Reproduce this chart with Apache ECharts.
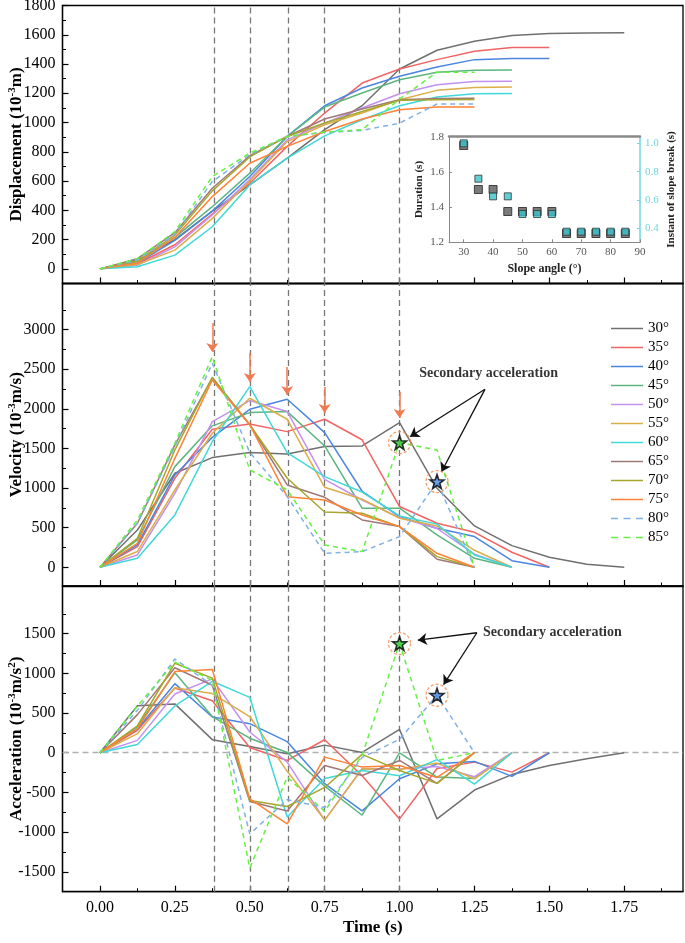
<!DOCTYPE html>
<html><head><meta charset="utf-8">
<script src="https://cdn.jsdelivr.net/npm/echarts@6/dist/echarts.min.js"></script>
<style>html,body{margin:0;padding:0;background:#fff}#c{width:685px;height:943px}</style>
</head><body><div id="c"></div>
<script>
// ---------- data ----------
const times = [0,0.125,0.25,0.375,0.5,0.625,0.75,0.875,1.0,1.125,1.25,1.375,1.5,1.625,1.75];
const angles = ['30°','35°','40°','45°','50°','55°','60°','65°','70°','75°','80°','85°'];

const disp30 = [0,60,200,395,574,757,951,1115,1366,1494,1556,1595,1609,1612,1614];
const disp35 = [0,35,165,375,585,837,1065,1270,1366,1430,1488,1513,1513];
const disp40 = [0,40,195,395,631,905,1115,1236,1316,1380,1430,1437,1438];
const disp45 = [0,50,215,425,654,905,1106,1202,1293,1344,1358,1360];
const disp50 = [0,25,150,368,610,882,996,1099,1197,1259,1280,1282];
const disp55 = [0,30,128,345,600,870,985,1065,1156,1220,1240,1243];
const disp60 = [0,15,94,288,574,757,909,1019,1115,1175,1197,1198];
const disp65 = [0,70,247,551,773,905,1024,1092,1156,1165,1166];
const disp70 = [0,55,231,533,765,905,997,1076,1152,1156,1157];
const disp75 = [0,40,215,494,722,837,939,1024,1088,1106,1106];
const disp80 = [0,60,235,597,780,905,932,946,996,1127,1127];
const disp85 = [0,70,254,631,791,905,935,951,1160,1344,1344];

const vel30 = [0,471,1187,1385,1448,1431,1524,1533,1828,998,522,274,126,38,0];
const vel35 = [0,261,1124,1743,1810,1713,1869,1610,767,556,442,190,0];
const vel40 = [0,282,1166,1640,1995,2121,1700,960,640,493,388,84,0];
const vel45 = [0,345,1271,1786,1953,1966,1532,746,746,409,114,0];
const vel50 = [0,156,934,1839,2105,1966,1111,850,628,490,165,0];
const vel55 = [0,200,976,1692,2134,1869,1010,859,619,522,215,0];
const vel60 = [0,114,661,1588,2281,1448,1145,950,649,545,156,0];
const vel65 = [0,556,1545,2390,1800,1040,884,598,514,101,0];
const vel70 = [0,366,1482,2399,1800,1124,699,682,514,135,0];
const vel75 = [0,303,1376,2365,1800,892,850,661,514,177,0];
const vel80 = [0,556,1524,2576,1449,893,177,198,388,1082,0];
const vel85 = [0,598,1566,2660,1230,977,282,198,1575,1480,0];

const acc30 = [0,593,615,165,78,-13,96,4,293,-833,-470,-275,-160,-76,0];
const acc35 = [0,282,815,655,67,-97,164,-290,-833,-198,-118,-244,0];
const acc40 = [0,300,870,450,366,140,-390,-732,-328,-140,-109,-298,0];
const acc45 = [0,330,1008,456,183,4,-420,-787,-2,-307,-324,0];
const acc50 = [0,156,740,930,261,-118,-848,-202,-206,-172,-302,0];
const acc55 = [0,240,820,745,456,-234,-848,-202,-210,-130,-328,0];
const acc60 = [0,105,589,900,698,-808,-324,-223,-290,-86,-395,0];
const acc65 = [0,480,1070,850,-614,-734,-160,-286,-97,-386,0];
const acc70 = [0,340,1128,940,-602,-677,-437,-21,-223,-386,0];
const acc75 = [0,303,1022,1048,-581,-896,-55,-181,-160,-311,0];
const acc80 = [0,534,1180,850,-1022,-591,-690,-60,170,724,0];
const acc85 = [0,588,1140,912,-1453,-307,-738,-30,1376,-97,0];

const slopeAngles = [30,35,40,45,50,55,60,65,70,75,80,85];
const durations = [1.75,1.5,1.5,1.375,1.375,1.375,1.375,1.25,1.25,1.25,1.25,1.25];
const breakInstants = [1.0,0.75,0.625,0.625,0.5,0.5,0.5,0.375,0.375,0.375,0.375,0.375];

const xMajor = [0,0.25,0.5,0.75,1.0,1.25,1.5,1.75];
const xMinor = [0.125,0.375,0.625,0.875,1.125,1.375,1.625,1.875];
const dispMajor = [0,200,400,600,800,1000,1200,1400,1600,1800];
const dispMinor = [100,300,500,700,900,1100,1300,1500,1700];
const velMajor = [0,500,1000,1500,2000,2500,3000];
const velMinor = [250,750,1250,1750,2250,2750,3250];
const accMajor = [-1500,-1000,-500,0,500,1000,1500];
const accMinor = [-1250,-750,-250,250,750,1250,1750];
const insetXTicks = [30,40,50,60,70,80,90];
const insetRightTicks = [0.4,0.6,0.8,1.0];
const breakLines = [0.375,0.5,0.625,0.75,1.0];
// orange arrows (time, start velocity, end velocity)
const peakArrows = [[0.375,3085,2718],[0.5,2706,2340],[0.625,2530,2176],[0.75,2277,1948],[1.0,2214,1885]];

// ---------- style ----------
const colors = ['#707070','#f26464','#4a86e0','#5cb57f','#c490f0','#dcae48','#40d8d8','#a07878','#a6a62c','#ff8236','#80b0e8','#66f044'];
const FF = "'Liberation Serif','Times New Roman',serif";
const disp = [disp30,disp35,disp40,disp45,disp50,disp55,disp60,disp65,disp70,disp75,disp80,disp85];
const vel = [vel30,vel35,vel40,vel45,vel50,vel55,vel60,vel65,vel70,vel75,vel80,vel85];
const acc = [acc30,acc35,acc40,acc45,acc50,acc55,acc60,acc65,acc70,acc75,acc80,acc85];

const L = 62.5, W = 620.5;
const grids = [
  {left:L, width:W, top:5.5, height:278},
  {left:L, width:W, top:283.5, height:302.5},
  {left:L, width:W, top:586, height:305.7},
  {left:449, width:191, top:136.7, height:105.6}
];
const yr = [[-100,1800],[-236,3583],[-1750,2100]];
const yMaj = [dispMajor, velMajor, accMajor];
const yMin = [dispMinor, velMinor, accMinor];

const nameRich = {rich: {
  a: {fontFamily: FF, fontSize: 17, fontWeight: 'bold', color: '#000', lineHeight: 20},
  s: {fontFamily: FF, fontSize: 11, fontWeight: 'bold', color: '#000', lineHeight: 20, verticalAlign: 'top', padding: [0,0,9,0]}
}};
const yNames = [
  '{a|Displacement (10}{s|-3}{a|m)}',
  '{a|Velocity (10}{s|-3}{a|m/s)}',
  '{a|Acceleration (10}{s|-3}{a|m/s}{s|2}{a|)}'
];

const xAxis = [], yAxis = [], series = [];
for (let p = 0; p < 3; p++) {
  xAxis.push({
    type:'value', gridIndex:p, min:-0.125, max:1.946, position:'bottom',
    axisLine:{show:true, onZero:false, lineStyle:{color:'#000', width:1.3}},
    axisTick:{show:true, inside:true, length:6, customValues:xMajor, lineStyle:{color:'#000', width:1.2}},
    axisLabel:{show:p===2, customValues:xMajor, formatter:v=>v.toFixed(2), fontFamily:FF, fontSize:16, color:'#000', margin:8},
    splitLine:{show:false},
    name: p===2 ? 'Time (s)' : '', nameLocation:'middle', nameGap:27,
    nameTextStyle:{fontFamily:FF, fontSize:17, fontWeight:'bold', color:'#000'}
  });
  xAxis.push({
    type:'value', gridIndex:p, min:-0.125, max:1.946, position:'bottom',
    axisLine:{show:false, onZero:false}, axisLabel:{show:false}, splitLine:{show:false},
    axisTick:{show:true, inside:true, length:3.5, customValues:xMinor, lineStyle:{color:'#000', width:1}}
  });
  yAxis.push({
    type:'value', gridIndex:p, min:yr[p][0], max:yr[p][1], position:'left',
    axisLine:{show:true, onZero:false, lineStyle:{color:'#000', width:1.3}},
    axisTick:{show:true, inside:true, length:6, customValues:yMaj[p], lineStyle:{color:'#000', width:1.2}},
    axisLabel:{customValues:yMaj[p], formatter:v=>String(v), fontFamily:FF, fontSize:16, color:'#000', margin:7},
    splitLine:{show:false},
    name: yNames[p], nameTextStyle: nameRich, nameMoveOverlap:false,
    nameLocation:'middle', nameGap:36, nameRotate:90
  });
  yAxis.push({
    type:'value', gridIndex:p, min:yr[p][0], max:yr[p][1], position:'left', offset:0,
    axisLine:{show:false, onZero:false}, axisLabel:{show:false}, splitLine:{show:false},
    axisTick:{show:true, inside:true, length:3.5, customValues:yMin[p], lineStyle:{color:'#000', width:1}}
  });
}
// inset axes: xAxis 6 (bottom), 7 (top frame); yAxis 6 (left), 7 (right)
xAxis.push({
  type:'value', gridIndex:3, min:25, max:90, position:'bottom',
  axisLine:{show:true, onZero:false, lineStyle:{color:'#888', width:1}},
  axisTick:{show:true, inside:true, length:3, customValues:insetXTicks, lineStyle:{color:'#888'}},
  axisLabel:{customValues:insetXTicks, fontFamily:FF, fontSize:11, color:'#555', margin:4},
  splitLine:{show:false},
  name:'Slope angle (°)', nameLocation:'middle', nameGap:21,
  nameTextStyle:{fontFamily:FF, fontSize:12, fontWeight:'bold', color:'#222'}
});
xAxis.push({
  type:'value', gridIndex:3, min:25, max:90, position:'top',
  axisLine:{show:true, onZero:false, lineStyle:{color:'#8a8a8a', width:2.5}},
  axisTick:{show:false}, axisLabel:{show:false}, splitLine:{show:false}
});
yAxis.push({
  type:'value', gridIndex:3, min:1.2, max:1.8, interval:0.2, position:'left',
  axisLine:{show:true, onZero:false, lineStyle:{color:'#888', width:1}},
  axisTick:{show:true, inside:true, length:3, lineStyle:{color:'#888'}},
  axisLabel:{fontFamily:FF, fontSize:11, color:'#555', margin:5, formatter:v=>v.toFixed(1)},
  splitLine:{show:false},
  name:'Duration (s)', nameLocation:'middle', nameGap:24, nameRotate:90,
  nameTextStyle:{fontFamily:FF, fontSize:11, fontWeight:'bold', color:'#222'}
});
yAxis.push({
  type:'value', gridIndex:3, min:0.3, max:1.047, position:'right',
  axisLine:{show:true, onZero:false, lineStyle:{color:'#6fd6dc', width:1.5}},
  axisTick:{show:true, inside:true, length:3, customValues:insetRightTicks, lineStyle:{color:'#6fd6dc'}},
  axisLabel:{customValues:insetRightTicks, fontFamily:FF, fontSize:11, color:'#6fd6dc', margin:5, formatter:v=>v.toFixed(1)},
  splitLine:{show:false},
  name:'Instant of slope break (s)', nameLocation:'middle', nameGap:26, nameRotate:90,
  nameTextStyle:{fontFamily:FF, fontSize:11, fontWeight:'bold', color:'#222'}
});

const panels = [disp, vel, acc];
for (let p = 0; p < 3; p++) {
  for (let i = 0; i < 12; i++) {
    const arr = panels[p][i];
    const s = {
      type:'line', name:angles[i], xAxisIndex:2*p, yAxisIndex:2*p,
      data: arr.map((v,k)=>[times[k], v]),
      showSymbol:false, symbol:'none', silent:true, z:3,
      lineStyle:{color:colors[i], width:1.5, type: i>=10 ? [5,4] : 'solid'},
      itemStyle:{color:colors[i]}
    };
    if (i === 0) {
      const ml = breakLines.map(t=>({xAxis:t}));
      if (p === 2) ml.push({yAxis:0, lineStyle:{color:'#b0b0b0', type:[6,4], width:1.3}});
      s.markLine = {silent:true, symbol:'none', animation:false, label:{show:false},
        lineStyle:{color:'#777', type:[6,4], width:1.3}, data:ml, z:2};
    }
    series.push(s);
  }
}

const starPath = 'path://M0,-10 L2.35,-3.24 L9.51,-3.09 L3.8,1.24 L5.88,8.09 L0,4 L-5.88,8.09 L-3.8,1.24 L-9.51,-3.09 L-2.35,-3.24 Z';
function stars(p, greenPt, bluePt) {
  series.push({
    type:'scatter', xAxisIndex:2*p, yAxisIndex:2*p, silent:true, z:6,
    symbol:'circle', symbolSize:22,
    itemStyle:{color:'rgba(255,255,255,0)', borderColor:'#f08a4a', borderWidth:1.3, borderType:[3,2]},
    data:[greenPt, bluePt]
  });
  series.push({
    type:'scatter', xAxisIndex:2*p, yAxisIndex:2*p, silent:true, z:7,
    symbol:starPath, symbolSize:14,
    data:[{value:greenPt, itemStyle:{color:'#33cc33'}}, {value:bluePt, itemStyle:{color:'#4a86e0'}}],
    itemStyle:{borderColor:'#000', borderWidth:1.6}
  });
}
stars(1, [times[8], vel85[8]], [times[9], vel80[9]]);
stars(2, [times[8], acc85[8]], [times[9], acc80[9]]);

function annot(p, center, arrowFrom, targets) {
  series.push({
    type:'scatter', xAxisIndex:2*p, yAxisIndex:2*p, silent:true, z:8,
    symbolSize:1, itemStyle:{color:'rgba(0,0,0,0)'},
    data:[center],
    label:{show:true, position:'inside', formatter:'Secondary acceleration',
      fontFamily:FF, fontSize:14, fontWeight:'bold', color:'#000'},
    markLine:{silent:true, animation:false, symbol:['none','arrow'], symbolSize:9,
      label:{show:false}, lineStyle:{color:'#111', width:1.3, type:'solid'},
      data: targets.map(t=>[{coord:arrowFrom},{coord:t}])}
  });
}
annot(1, [1.297, 2449], [1.285, 2247], [[1.035, 1649],[1.14, 1207]]);
annot(2, [1.51, 1521], [1.258, 1511], [[1.061, 1418],[1.147, 859]]);

// orange arrows at velocity peaks
series.push({
  type:'line', xAxisIndex:2, yAxisIndex:2, data:[], silent:true,
  markLine:{silent:true, animation:false, symbol:['none','arrow'], symbolSize:9, label:{show:false},
    lineStyle:{color:'#f27a50', width:1.5, type:'solid'},
    data: peakArrows.map(a=>[{coord:[a[0],a[1]]},{coord:[a[0],a[2]]}])}
});

// inset scatter
series.push({
  type:'scatter', xAxisIndex:6, yAxisIndex:6, silent:true, z:5,
  symbol:'rect', symbolSize:8,
  itemStyle:{color:'#5a5a5a', borderColor:'#222', borderWidth:1},
  data: slopeAngles.map((a,k)=>[a, durations[k]])
});
series.push({
  type:'scatter', xAxisIndex:6, yAxisIndex:7, silent:true, z:6,
  symbol:'rect', symbolSize:7,
  itemStyle:{color:'#38c4cc', borderColor:'#333', borderWidth:1},
  data: slopeAngles.map((a,k)=>[a, breakInstants[k]])
});

const solidIcon = 'path://M0,0H32V1.5H0Z';
const dashIcon = 'path://M0,0H7V1.5H0Z M12.5,0H19.5V1.5H12.5Z M25,0H32V1.5H25Z';

const chart = echarts.init(document.getElementById('c'), null, {renderer:'canvas'});
chart.setOption({
  animation:false,
  backgroundColor:'#fff',
  grid: grids.map((g,k)=>Object.assign({show:k<3, borderColor:'#000', borderWidth:1.3, backgroundColor: k===3 ? '#fff' : 'transparent', containLabel:false, outerBoundsMode:'none'}, g)),
  legend:{
    data: angles.map((n,k)=>({name:n, icon: k>=10 ? dashIcon : solidIcon})),
    orient:'vertical', left:606, top:316,
    itemWidth:32, itemHeight:14, itemGap:4, symbolKeepAspect:true,
    textStyle:{fontFamily:FF, fontSize:15, color:'#000'},
    selectedMode:false
  },
  xAxis, yAxis, series
});
</script>
</body></html>
